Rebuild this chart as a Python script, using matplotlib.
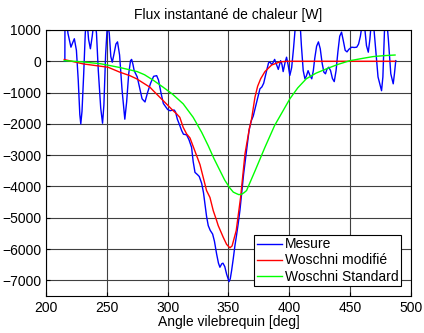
import matplotlib.pyplot as plt

plt.rcParams['font.family'] = ['Liberation Sans', 'DejaVu Sans']

# Mesure (blue)
angle_mes = [215.5, 215.6, 216.5, 218, 220.5, 222, 223.3, 225, 226.5, 227.8, 228.6,
             229.6, 231, 232.3, 233.5, 235, 236.5, 238, 239.8, 241.5, 243, 245, 246.5,
             247.6, 249, 250.5, 252, 253.3, 254.5, 256, 257.5, 258.8, 260.5, 262.5,
             264.8, 266.3, 268, 269.5, 270.4, 271.5, 272.5, 273.5, 275, 277, 279,
             281.4, 283.5, 286, 288.5, 291, 292.5, 294.5, 296.5, 297.8, 300, 302, 304,
             305.5, 306.5, 308, 310, 311.5, 313, 315.6, 317.5, 319.7, 321, 322.5,
             324.5, 326, 328, 329.5, 330.7, 332, 333.4, 335, 337, 338.5, 340.3, 341.8,
             343, 344.5, 345.5, 347, 348.5, 350.5, 351.5, 352.6, 354, 355.3, 356.5,
             358, 359.5, 360.8, 362.5, 364.9, 367, 368.8, 370.4, 373.2, 375.9, 377.5,
             379, 381.4, 383, 384.1, 385.5, 386.5, 388, 389.5, 391, 392.9, 394, 395,
             396.5, 397.8, 399, 400.5, 402, 403.5, 405, 406.5, 408.5, 410, 411.5,
             412.9, 414, 415.5, 417, 418.5, 419.8, 421, 422.5, 424, 425.5, 427, 428.5,
             429.8, 431, 432.5, 434, 435.5, 437, 438.5, 440, 441.5, 443, 444.5, 446,
             447.5, 449, 451.3, 453.5, 455.5, 457, 458.5, 460, 460.8, 462, 463.5, 465,
             466.3, 467.8, 469.5, 471, 473, 475.9, 477, 478.6, 480, 481.5, 483.5,
             485.5, 486.5, 487.6]
flux_mes = [0, 1300, 1600, 900, 450, 600, 720, 350, -600, -1700, -2000,
            -1600, -400, 900, 1400, 700, 400, 800, 1400, 900, -300, -1500, -1980,
            -1400, 200, 1200, 900, 150, -30, 250, 550, 620, 200, -900,
            -1850, -1300, -400, 20, 60, -100, -300, -380, -500, -850, -1200,
            -1300, -1000, -700, -480, -460, -600, -1000, -1350, -1420, -1540, -1580, -1560,
            -1560, -1620, -1850, -2050, -2210, -2330, -2350, -2500, -2750, -3200, -3550,
            -3620, -3680, -3900, -4200, -4560, -4950, -5250, -5400, -5520, -5750, -6160, -6450,
            -6580, -6470, -6450, -6560, -6800, -7040, -6950, -6690, -6300, -5900, -5600,
            -5200, -4750, -4240, -3600, -2850, -2200, -1900, -1750, -1300, -880, -820,
            -700, -300, -50, -20, -100, -60, 60, -100, -260, 20, -100, -330,
            -50, 130, -100, -450, -200, 400, 1100, 1500, 1500, 500, -300,
            -560, -480, -300, -450, -560, -300, 100, 480, 620, 400, -50, -350,
            -400, -250, -190, -300, -550, -650, -300, 300, 800, 930, 650, 350,
            300, 380, 450, 440, 450, 550, 800, 1200, 1400, 1100, 500, 290,
            700, 1400, 1100, 400, -500, -940, -500, 1300, 1400, 700, -400,
            -720, -400, 20]

# Woschni modifie (red)
angle_mod = [215, 230.7, 251, 260.8, 269, 274.5, 285.5, 288.2, 296.4, 304.6, 307.4,
             310, 312.8, 315.6, 318.4, 326.6, 332, 334.8, 337.5, 340.3, 341.6, 345.7,
             348.5, 351.2, 353, 356.4, 360, 363.6, 367.2, 369, 371.8, 374, 376.5, 380,
             385.5, 392.3, 398, 420, 487]
flux_mod = [55, -85, -190, -350, -460, -560, -830, -940, -1260, -1580, -1680,
            -1790, -2110, -2320, -2450, -3300, -4130, -4350, -4770, -5090, -5250, -5620,
            -5850, -5960, -5900, -5410, -4350, -2960, -2150, -1850, -1150, -800, -560, -330,
            -120, -20, 0, 0, 0]

# Woschni Standard (green)
angle_std = [215, 230, 245, 260.8, 275, 281, 288, 296, 304, 312.8, 321, 328, 333.4,
             338, 343, 347, 351.2, 354, 356.7, 358.5, 360.8, 362.8, 364.9, 368, 372,
             376, 380, 384, 388, 395, 400.5, 407, 414, 422, 430.7, 440, 450, 460,
             469, 478, 487]
flux_std = [20, -20, -80, -200, -330, -430, -600, -820, -1050, -1360, -1790, -2270, -2700,
            -3100, -3490, -3800, -4050, -4180, -4230, -4260, -4250, -4200, -4130, -3850, -3490,
            -3120, -2750, -2400, -2050, -1575, -1200, -850, -560, -380, -240, -100, 20, 90,
            150, 180, 200]

fig = plt.figure(figsize=(4.24, 3.33), dpi=100)
ax = fig.add_axes([0.1085, 0.111, 0.8605, 0.799])

ax.plot(angle_mes, flux_mes, color='#0000ff', lw=1.0, label='Mesure')
ax.plot(angle_mod, flux_mod, color='#ff0000', lw=1.0, label='Woschni modifié')
ax.plot(angle_std, flux_std, color='#00ff00', lw=1.0, label='Woschni Standard')

ax.set_xlim(200, 500)
ax.set_ylim(-7500, 1000)
ax.set_xticks(range(200, 501, 50))
ax.set_yticks(range(-7000, 1001, 1000))
ax.grid(True, color='0.25', lw=0.8)
ax.tick_params(direction='in', labelsize=10, length=3)
ax.set_title('Flux instantané de chaleur [W]', fontsize=10, pad=8)
ax.set_xlabel('Angle vilebrequin [deg]', fontsize=10, labelpad=0)

leg = ax.legend(loc='lower right', fontsize=10, fancybox=False, framealpha=1,
                edgecolor='black', handlelength=1.8, handletextpad=0.2,
                borderpad=0.2, labelspacing=0.15, borderaxespad=0.7)
leg.get_frame().set_linewidth(0.8)

fig.savefig('out.png', dpi=100)
